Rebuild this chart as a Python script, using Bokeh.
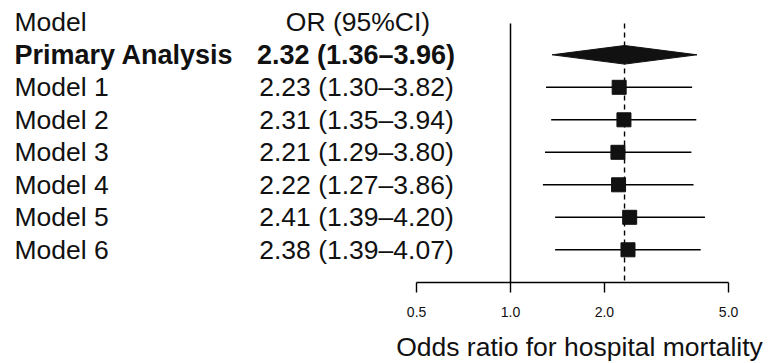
from bokeh.plotting import figure
from bokeh.models import (Range1d, LinearScale, FixedTicker, PrintfTickFormatter,
                          ColumnDataSource)
from bokeh.layouts import column
from bokeh.core.properties import value
from bokeh.embed import file_html
from bokeh.resources import INLINE

# ---------------- data ----------------
models = ["Primary Analysis", "Model 1", "Model 2", "Model 3", "Model 4", "Model 5", "Model 6"]
or_est = [2.32, 2.23, 2.31, 2.21, 2.22, 2.41, 2.38]
ci_low = [1.36, 1.30, 1.35, 1.29, 1.27, 1.39, 1.39]
ci_high = [3.96, 3.82, 3.94, 3.80, 3.86, 4.20, 4.07]
tick_values = [0.5, 1.0, 2.0, 5.0]
header_left = "Model"
header_right = "OR (95%CI)"
x_label = "Odds ratio for hospital mortality"
ref_value = 1.0
summary_value = or_est[0]

FONT = "Liberation Sans"
TXT = "#111111"

# ---------------- layout ----------------
W = 769
H_TOP = 328
H_BOT = 33
AXIS_Y = 282
BOTTOM = H_TOP - AXIS_Y
frame_h = AXIS_Y
# log scale: pixel = 510 + 312*log10(v)
px_per_dec = 312.0
x_one = 510.0
x_start = 10 ** ((0 - x_one) / px_per_dec)
x_end = 10 ** ((W - x_one) / px_per_dec)
# rows: pixel y = 21.8 + 32.5*i
row0, row_h = 21.8, 32.5
y_top = (0 - row0) / row_h
y_bot = (frame_h - row0) / row_h

p = figure(width=W, height=H_TOP, x_axis_type="log", output_backend="svg",
           toolbar_location=None, x_range=Range1d(x_start, x_end),
           y_range=Range1d(y_bot, y_top),
           min_border_left=0, min_border_right=0, min_border_top=0,
           min_border_bottom=BOTTOM, y_axis_location=None)
p.outline_line_color = None
p.grid.visible = False
p.background_fill_color = "white"
p.border_fill_color = "white"

p.extra_x_ranges = {"txt": Range1d(0, W)}
p.extra_x_scales = {"txt": LinearScale()}

rows = list(range(1, len(models) + 1))
n = len(models)

# reference vertical lines
p.segment(x0=[ref_value], x1=[ref_value], y0=[0.04], y1=[y_bot], line_color="black", line_width=1.5)
p.segment(x0=[summary_value], x1=[summary_value], y0=[0.04], y1=[y_bot], line_color="black",
          line_width=1.4, line_dash="5 4")

# CI lines for models
src = ColumnDataSource(dict(lo=ci_low[1:], hi=ci_high[1:], est=or_est[1:], y=rows[1:]))
p.segment(x0="lo", x1="hi", y0="y", y1="y", source=src, line_color="black", line_width=1.4)
p.scatter(x="est", y="y", source=src, marker="square", size=14, fill_color="#111111",
          line_color="#111111")

# diamond for primary analysis
dh = 9.3 / row_h
r = rows[0]
p.patch(x=[ci_low[0], or_est[0], ci_high[0], or_est[0]],
        y=[r, r - dh, r, r + dh], fill_color="#111111", line_color="#111111")

# text columns
value_texts = [f"{e:.2f} ({l:.2f}\u2013{h:.2f})" for e, l, h in zip(or_est, ci_low, ci_high)]
FS = "26.5px"
p.text(x=[14], y=[0], text=[header_left], text_font=value(FONT), text_font_size=FS,
       text_baseline="middle", text_align="left", x_range_name="txt", text_color=TXT)
p.text(x=[357.5], y=[0], text=[header_right], text_font=value(FONT), text_font_size=FS,
       text_baseline="middle", text_align="center", x_range_name="txt", text_color=TXT)
p.text(x=[14], y=[rows[0]], text=[models[0]], text_font=value(FONT), text_font_size="27px",
       text_font_style="bold", text_baseline="middle", text_align="left", x_range_name="txt",
       text_color=TXT)
p.text(x=[355.5], y=[rows[0]], text=[value_texts[0]], text_font=value(FONT), text_font_size="27px",
       text_font_style="bold", text_baseline="middle", text_align="center", x_range_name="txt",
       text_color=TXT)
p.text(x=[14] * (n - 1), y=rows[1:], text=models[1:], text_font=value(FONT), text_font_size=FS,
       text_baseline="middle", text_align="left", x_range_name="txt", text_color=TXT)
p.text(x=[356] * (n - 1), y=rows[1:], text=value_texts[1:], text_font=value(FONT),
       text_font_size=FS, text_baseline="middle", text_align="center", x_range_name="txt",
       text_color=TXT)

# x axis
ax = p.xaxis[0]
ax.bounds = (tick_values[0], tick_values[-1])
ax.ticker = FixedTicker(ticks=tick_values, minor_ticks=[])
ax.formatter = PrintfTickFormatter(format="%.1f")
ax.major_tick_in = 0
ax.major_tick_out = 10
ax.minor_tick_in = 0
ax.minor_tick_out = 0
ax.axis_line_width = 1.4
ax.major_tick_line_width = 1.4
ax.axis_line_color = "black"
ax.major_tick_line_color = "black"
ax.major_label_text_font = FONT
ax.major_label_text_font_size = "14px"
ax.major_label_text_color = TXT
ax.major_label_standoff = 14

# axis title strip (centred under the tick range, as in the reference)
t = figure(width=W, height=H_BOT, output_backend="svg", toolbar_location=None,
           x_range=Range1d(0, W), y_range=Range1d(0, H_BOT),
           min_border_left=0, min_border_right=0, min_border_top=0, min_border_bottom=0,
           x_axis_location=None, y_axis_location=None)
t.outline_line_color = None
t.grid.visible = False
t.text(x=[579], y=[H_BOT - 18], text=[x_label], text_font=value(FONT), text_font_size=FS,
       text_baseline="middle", text_align="center", text_color=TXT)

layout = column(p, t, spacing=0)
open("out.html", "w").write(file_html(layout, INLINE))
